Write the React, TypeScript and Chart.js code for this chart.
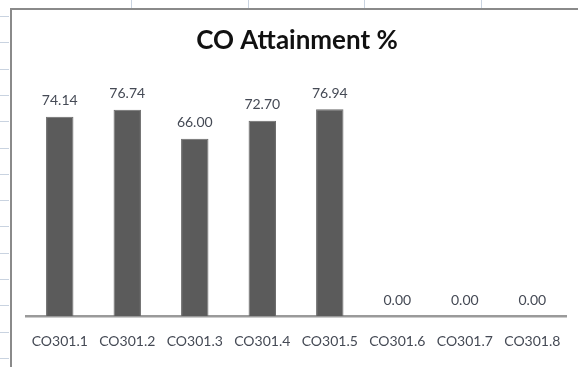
import React, { useEffect, useRef } from "react";
import { Chart, registerables } from "chart.js";

Chart.register(...registerables);

const categories = ["CO301.1", "CO301.2", "CO301.3", "CO301.4", "CO301.5", "CO301.6", "CO301.7", "CO301.8"];
const attainment = [74.14, 76.74, 66.0, 72.7, 76.94, 0, 0, 0];
const titleText = "CO Attainment %";
const yMax = 90;

const sheetPlugin = {
  id: "sheet",
  beforeDraw(chart: any) {
    const ctx = chart.ctx;
    ctx.save();
    ctx.fillStyle = "#ffffff";
    ctx.fillRect(0, 0, chart.width, chart.height);
    ctx.strokeStyle = "#c9d3e0";
    ctx.lineWidth = 1;
    [131, 248, 364, 481].forEach((x) => {
      ctx.beginPath();
      ctx.moveTo(x + 0.5, 0);
      ctx.lineTo(x + 0.5, 8);
      ctx.stroke();
    });
    for (let y = 16; y < chart.height; y += 26.3) {
      ctx.beginPath();
      ctx.moveTo(0, Math.round(y) + 0.5);
      ctx.lineTo(9, Math.round(y) + 0.5);
      ctx.stroke();
    }
    ctx.strokeStyle = "#8a8a8a";
    ctx.lineWidth = 2;
    ctx.beginPath();
    ctx.moveTo(11, chart.height + 5);
    ctx.lineTo(11, 9);
    ctx.lineTo(chart.width + 5, 9);
    ctx.stroke();
    ctx.restore();
  },
};

const labelPlugin = {
  id: "valueLabels",
  afterDatasetsDraw(chart: any) {
    const ctx = chart.ctx;
    const meta = chart.getDatasetMeta(0);
    ctx.save();
    ctx.fillStyle = "#454a55";
    ctx.font = "14px Lato";
    ctx.textAlign = "center";
    ctx.textBaseline = "middle";
    meta.data.forEach((bar: any, i: number) => {
      ctx.fillText(attainment[i].toFixed(2), bar.x, bar.y - 16);
    });
    ctx.restore();
  },
};

export default function App() {
  const ref = useRef<HTMLCanvasElement>(null);
  useEffect(() => {
    if (!ref.current) return;
    const chart = new Chart(ref.current, {
      type: "bar",
      data: {
        labels: categories,
        datasets: [
          {
            data: attainment,
            backgroundColor: "#5b5b5b",
            borderColor: "#6a6a6a",
            borderWidth: 1,
            categoryPercentage: 1,
            barPercentage: 0.406,
          },
        ],
      },
      options: {
        animation: false,
        responsive: false,
        layout: { padding: { left: 26, right: 10, top: 0, bottom: 0 } },
        plugins: {
          legend: { display: false },
          tooltip: { enabled: false },
          title: {
            display: true,
            text: titleText,
            color: "#111111",
            font: { family: "Lato", size: 26, weight: "bold" },
            padding: { top: 25, bottom: 18 },
          },
        },
        scales: {
          x: {
            grid: { display: false, drawTicks: false },
            border: { display: true, color: "#9a9a9a", width: 2.5 },
            ticks: { color: "#454a55", font: { family: "Lato", size: 14 }, padding: 17, maxRotation: 0, autoSkip: false },
          },
          y: { display: false, min: 0, max: yMax },
        },
      },
      plugins: [sheetPlugin, labelPlugin],
    });
    return () => chart.destroy();
  }, []);
  return (
    <canvas
      ref={ref}
      width={578}
      height={367}
      style={{ position: "absolute", left: 0, top: 0, width: 578, height: 367 }}
    />
  );
}
